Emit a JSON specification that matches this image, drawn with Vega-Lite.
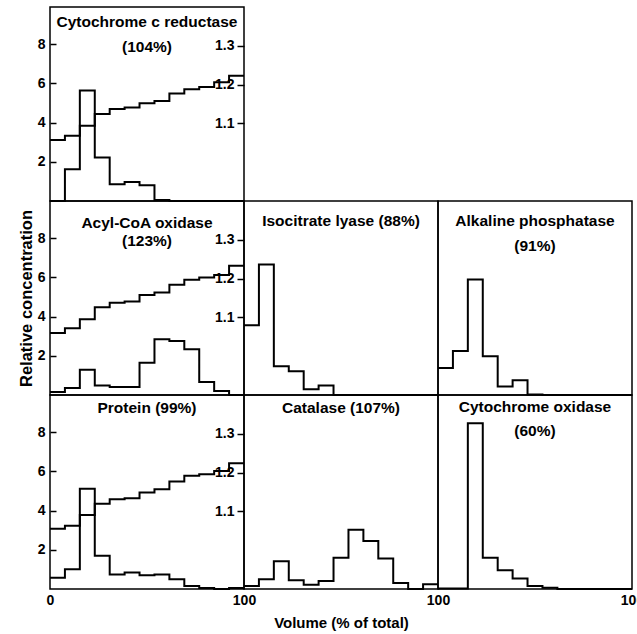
{
  "$schema": "https://vega.github.io/schema/vega-lite/v6.json",
  "padding": {"left": 17, "top": 6, "right": 0, "bottom": 0},
  "background": "white",
  "spacing": 0,
  "bounds": "flush",
  "columns": 3,
  "config": {
    "font": "Liberation Sans",
    "view": {"stroke": "black", "strokeWidth": 1.5},
    "concat": {"spacing": 0},
    "axis": {"grid": false, "domain": false, "labelFont": "Liberation Sans", "labelFontSize": 14, "labelFontWeight": "bold", "labelColor": "black", "tickColor": "black", "tickWidth": 1.5, "titleFont": "Liberation Sans", "titleFontSize": 15, "titleFontWeight": "bold", "titleColor": "black", "labelFlush": false, "labelOverlap": false},
    "title": {"font": "Liberation Sans", "fontSize": 15.5, "fontWeight": "bold", "color": "black", "anchor": "middle"},
    "line": {"color": "black", "strokeWidth": 2, "interpolate": "step-after", "clip": true}
  },
  "data": {"name": "h"},
  "datasets": {
    "h": [
      {"p":"ccr","s":"e","x":0,"v":0},{"p":"ccr","s":"e","x":7.69,"v":1.62},{"p":"ccr","s":"e","x":15.38,"v":5.64},{"p":"ccr","s":"e","x":23.08,"v":2.22},{"p":"ccr","s":"e","x":30.77,"v":0.85},{"p":"ccr","s":"e","x":38.46,"v":0.97},{"p":"ccr","s":"e","x":46.15,"v":0.8},{"p":"ccr","s":"e","x":53.85,"v":0.05},{"p":"ccr","s":"e","x":61.54,"v":0},{"p":"ccr","s":"e","x":69.23,"v":0},{"p":"ccr","s":"e","x":76.92,"v":0},{"p":"ccr","s":"e","x":84.62,"v":0},{"p":"ccr","s":"e","x":92.31,"v":0},{"p":"ccr","s":"e","x":100,"v":0},
      {"p":"ccr","s":"g","x":0,"v":1.057},{"p":"ccr","s":"g","x":7.69,"v":1.068},{"p":"ccr","s":"g","x":15.38,"v":1.094},{"p":"ccr","s":"g","x":23.08,"v":1.124},{"p":"ccr","s":"g","x":30.77,"v":1.137},{"p":"ccr","s":"g","x":38.46,"v":1.141},{"p":"ccr","s":"g","x":46.15,"v":1.152},{"p":"ccr","s":"g","x":53.85,"v":1.158},{"p":"ccr","s":"g","x":61.54,"v":1.177},{"p":"ccr","s":"g","x":69.23,"v":1.188},{"p":"ccr","s":"g","x":76.92,"v":1.194},{"p":"ccr","s":"g","x":84.62,"v":1.206},{"p":"ccr","s":"g","x":92.31,"v":1.223},{"p":"ccr","s":"g","x":100,"v":1.223},
      {"p":"aco","s":"e","x":0,"v":0.15},{"p":"aco","s":"e","x":7.69,"v":0.36},{"p":"aco","s":"e","x":15.38,"v":1.29},{"p":"aco","s":"e","x":23.08,"v":0.49},{"p":"aco","s":"e","x":30.77,"v":0.41},{"p":"aco","s":"e","x":38.46,"v":0.41},{"p":"aco","s":"e","x":46.15,"v":1.64},{"p":"aco","s":"e","x":53.85,"v":2.85},{"p":"aco","s":"e","x":61.54,"v":2.76},{"p":"aco","s":"e","x":69.23,"v":2.33},{"p":"aco","s":"e","x":76.92,"v":0.66},{"p":"aco","s":"e","x":84.62,"v":0.2},{"p":"aco","s":"e","x":92.31,"v":0},{"p":"aco","s":"e","x":100,"v":0},
      {"p":"aco","s":"g","x":0,"v":1.06},{"p":"aco","s":"g","x":7.69,"v":1.072},{"p":"aco","s":"g","x":15.38,"v":1.095},{"p":"aco","s":"g","x":23.08,"v":1.126},{"p":"aco","s":"g","x":30.77,"v":1.138},{"p":"aco","s":"g","x":38.46,"v":1.141},{"p":"aco","s":"g","x":46.15,"v":1.158},{"p":"aco","s":"g","x":53.85,"v":1.164},{"p":"aco","s":"g","x":61.54,"v":1.184},{"p":"aco","s":"g","x":69.23,"v":1.197},{"p":"aco","s":"g","x":76.92,"v":1.203},{"p":"aco","s":"g","x":84.62,"v":1.209},{"p":"aco","s":"g","x":92.31,"v":1.233},{"p":"aco","s":"g","x":100,"v":1.233},
      {"p":"prot","s":"e","x":0,"v":0.58},{"p":"prot","s":"e","x":7.69,"v":1.01},{"p":"prot","s":"e","x":15.38,"v":5.11},{"p":"prot","s":"e","x":23.08,"v":1.7},{"p":"prot","s":"e","x":30.77,"v":0.74},{"p":"prot","s":"e","x":38.46,"v":0.84},{"p":"prot","s":"e","x":46.15,"v":0.7},{"p":"prot","s":"e","x":53.85,"v":0.74},{"p":"prot","s":"e","x":61.54,"v":0.5},{"p":"prot","s":"e","x":69.23,"v":0.15},{"p":"prot","s":"e","x":76.92,"v":0.05},{"p":"prot","s":"e","x":84.62,"v":0},{"p":"prot","s":"e","x":92.31,"v":0.05},{"p":"prot","s":"e","x":100,"v":0.05},
      {"p":"prot","s":"g","x":0,"v":1.055},{"p":"prot","s":"g","x":7.69,"v":1.063},{"p":"prot","s":"g","x":15.38,"v":1.091},{"p":"prot","s":"g","x":23.08,"v":1.12},{"p":"prot","s":"g","x":30.77,"v":1.131},{"p":"prot","s":"g","x":38.46,"v":1.134},{"p":"prot","s":"g","x":46.15,"v":1.149},{"p":"prot","s":"g","x":53.85,"v":1.157},{"p":"prot","s":"g","x":61.54,"v":1.177},{"p":"prot","s":"g","x":69.23,"v":1.192},{"p":"prot","s":"g","x":76.92,"v":1.196},{"p":"prot","s":"g","x":84.62,"v":1.204},{"p":"prot","s":"g","x":92.31,"v":1.224},{"p":"prot","s":"g","x":100,"v":1.224},
      {"p":"icl","s":"e","x":0,"v":3.56},{"p":"icl","s":"e","x":7.69,"v":6.66},{"p":"icl","s":"e","x":15.38,"v":1.47},{"p":"icl","s":"e","x":23.08,"v":1.21},{"p":"icl","s":"e","x":30.77,"v":0.29},{"p":"icl","s":"e","x":38.46,"v":0.49},{"p":"icl","s":"e","x":46.15,"v":0},{"p":"icl","s":"e","x":53.85,"v":0},{"p":"icl","s":"e","x":61.54,"v":0},{"p":"icl","s":"e","x":69.23,"v":0},{"p":"icl","s":"e","x":76.92,"v":0},{"p":"icl","s":"e","x":84.62,"v":0},{"p":"icl","s":"e","x":92.31,"v":0},{"p":"icl","s":"e","x":100,"v":0},
      {"p":"alp","s":"e","x":0,"v":1.38},{"p":"alp","s":"e","x":7.69,"v":2.25},{"p":"alp","s":"e","x":15.38,"v":5.89},{"p":"alp","s":"e","x":23.08,"v":1.98},{"p":"alp","s":"e","x":30.77,"v":0.44},{"p":"alp","s":"e","x":38.46,"v":0.75},{"p":"alp","s":"e","x":46.15,"v":0.03},{"p":"alp","s":"e","x":53.85,"v":0},{"p":"alp","s":"e","x":61.54,"v":0},{"p":"alp","s":"e","x":69.23,"v":0},{"p":"alp","s":"e","x":76.92,"v":0},{"p":"alp","s":"e","x":84.62,"v":0},{"p":"alp","s":"e","x":92.31,"v":0},{"p":"alp","s":"e","x":100,"v":0},
      {"p":"cat","s":"e","x":0,"v":0.15},{"p":"cat","s":"e","x":7.69,"v":0.5},{"p":"cat","s":"e","x":15.38,"v":1.42},{"p":"cat","s":"e","x":23.08,"v":0.45},{"p":"cat","s":"e","x":30.77,"v":0.22},{"p":"cat","s":"e","x":38.46,"v":0.41},{"p":"cat","s":"e","x":46.15,"v":1.6},{"p":"cat","s":"e","x":53.85,"v":3.02},{"p":"cat","s":"e","x":61.54,"v":2.45},{"p":"cat","s":"e","x":69.23,"v":1.56},{"p":"cat","s":"e","x":76.92,"v":0.31},{"p":"cat","s":"e","x":84.62,"v":0},{"p":"cat","s":"e","x":92.31,"v":0.24},{"p":"cat","s":"e","x":100,"v":0.24},
      {"p":"cox","s":"e","x":0,"v":0.02},{"p":"cox","s":"e","x":7.69,"v":0.02},{"p":"cox","s":"e","x":15.38,"v":8.46},{"p":"cox","s":"e","x":23.08,"v":1.6},{"p":"cox","s":"e","x":30.77,"v":0.96},{"p":"cox","s":"e","x":38.46,"v":0.53},{"p":"cox","s":"e","x":46.15,"v":0.15},{"p":"cox","s":"e","x":53.85,"v":0.07},{"p":"cox","s":"e","x":61.54,"v":0},{"p":"cox","s":"e","x":69.23,"v":0},{"p":"cox","s":"e","x":76.92,"v":0},{"p":"cox","s":"e","x":84.62,"v":0},{"p":"cox","s":"e","x":92.31,"v":0},{"p":"cox","s":"e","x":100,"v":0}
    ]
  },
  "concat": [
    {
      "width": 194, "height": 194,
      "title": {"text": ["Cytochrome c reductase", "(104%)"], "offset": -48, "lineHeight": 25},
      "transform": [{"filter": "datum.p == 'ccr'"}],
      "layer": [
        {"transform": [{"filter": "datum.s == 'e'"}], "mark": {"type": "line"},
         "encoding": {"x": {"field": "x", "type": "quantitative", "scale": {"domain": [0, 100], "nice": false}, "axis": null},
                      "y": {"field": "v", "type": "quantitative", "scale": {"domain": [0, 9.9], "nice": false}, "axis": {"orient": "left", "values": [2, 4, 6, 8], "offset": -6, "tickSize": 6, "labelPadding": 5, "title": null}}}},
        {"transform": [{"filter": "datum.s == 'g'"}], "mark": {"type": "line"},
         "encoding": {"x": {"field": "x", "type": "quantitative", "scale": {"domain": [0, 100], "nice": false}, "axis": null},
                      "y": {"field": "v", "type": "quantitative", "scale": {"domain": [0.9, 1.4], "nice": false}, "axis": {"orient": "right", "values": [1.1, 1.2, 1.3], "format": ".1f", "offset": -7, "tickSize": 7, "labelPadding": -10, "labelAlign": "right", "title": null}}}}
      ],
      "resolve": {"scale": {"y": "independent"}}
    },
    {"width": 194, "height": 194, "data": {"values": []}, "mark": "point", "view": {"stroke": null}},
    {"width": 194, "height": 194, "data": {"values": []}, "mark": "point", "view": {"stroke": null}},
    {
      "width": 194, "height": 194,
      "title": {"text": ["Acyl-CoA oxidase", "(123%)"], "offset": -48, "lineHeight": 18},
      "transform": [{"filter": "datum.p == 'aco'"}],
      "layer": [
        {"transform": [{"filter": "datum.s == 'e'"}], "mark": {"type": "line"},
         "encoding": {"x": {"field": "x", "type": "quantitative", "scale": {"domain": [0, 100], "nice": false}, "axis": null},
                      "y": {"field": "v", "type": "quantitative", "scale": {"domain": [0, 9.9], "nice": false}, "axis": {"orient": "left", "values": [2, 4, 6, 8], "offset": -6, "tickSize": 6, "labelPadding": 5, "title": "Relative concentration", "titlePadding": 3, "titleFontSize": 16.5}}}},
        {"transform": [{"filter": "datum.s == 'g'"}], "mark": {"type": "line"},
         "encoding": {"x": {"field": "x", "type": "quantitative", "scale": {"domain": [0, 100], "nice": false}, "axis": null},
                      "y": {"field": "v", "type": "quantitative", "scale": {"domain": [0.9, 1.4], "nice": false}, "axis": {"orient": "right", "values": [1.1, 1.2, 1.3], "format": ".1f", "offset": -7, "tickSize": 7, "labelPadding": -10, "labelAlign": "right", "title": null}}}}
      ],
      "resolve": {"scale": {"y": "independent"}}
    },
    {
      "width": 194, "height": 194,
      "title": {"text": "Isocitrate lyase (88%)", "offset": -28},
      "transform": [{"filter": "datum.p == 'icl'"}],
      "mark": {"type": "line"},
      "encoding": {"x": {"field": "x", "type": "quantitative", "scale": {"domain": [0, 100], "nice": false}, "axis": null},
                   "y": {"field": "v", "type": "quantitative", "scale": {"domain": [0, 9.9], "nice": false}, "axis": null}}
    },
    {
      "width": 194, "height": 194,
      "title": {"text": ["Alkaline phosphatase", "(91%)"], "offset": -53, "lineHeight": 25},
      "transform": [{"filter": "datum.p == 'alp'"}],
      "mark": {"type": "line"},
      "encoding": {"x": {"field": "x", "type": "quantitative", "scale": {"domain": [0, 100], "nice": false}, "axis": null},
                   "y": {"field": "v", "type": "quantitative", "scale": {"domain": [0, 9.9], "nice": false}, "axis": null}}
    },
    {
      "width": 194, "height": 194,
      "title": {"text": "Protein (99%)", "offset": -21},
      "transform": [{"filter": "datum.p == 'prot'"}],
      "layer": [
        {"transform": [{"filter": "datum.s == 'e'"}], "mark": {"type": "line"},
         "encoding": {"x": {"field": "x", "type": "quantitative", "scale": {"domain": [0, 100], "nice": false}, "axis": {"values": [0, 100], "ticks": false, "labelPadding": 4, "title": null}},
                      "y": {"field": "v", "type": "quantitative", "scale": {"domain": [0, 9.9], "nice": false}, "axis": {"orient": "left", "values": [2, 4, 6, 8], "offset": -6, "tickSize": 6, "labelPadding": 5, "title": null}}}},
        {"transform": [{"filter": "datum.s == 'g'"}], "mark": {"type": "line"},
         "encoding": {"x": {"field": "x", "type": "quantitative", "scale": {"domain": [0, 100], "nice": false}, "axis": {"values": [0, 100], "ticks": false, "labelPadding": 4, "title": null}},
                      "y": {"field": "v", "type": "quantitative", "scale": {"domain": [0.9, 1.4], "nice": false}, "axis": {"orient": "right", "values": [1.1, 1.2, 1.3], "format": ".1f", "offset": -7, "tickSize": 7, "labelPadding": -10, "labelAlign": "right", "title": null}}}}
      ],
      "resolve": {"scale": {"y": "independent"}}
    },
    {
      "width": 194, "height": 194,
      "title": {"text": "Catalase (107%)", "offset": -21},
      "transform": [{"filter": "datum.p == 'cat'"}],
      "mark": {"type": "line"},
      "encoding": {"x": {"field": "x", "type": "quantitative", "scale": {"domain": [0, 100], "nice": false}, "axis": {"values": [100], "ticks": false, "labelPadding": 4, "title": "Volume (% of total)", "titlePadding": 8}},
                   "y": {"field": "v", "type": "quantitative", "scale": {"domain": [0, 9.9], "nice": false}, "axis": null}}
    },
    {
      "width": 194, "height": 194,
      "title": {"text": ["Cytochrome oxidase", "(60%)"], "offset": -44, "lineHeight": 24},
      "transform": [{"filter": "datum.p == 'cox'"}],
      "mark": {"type": "line"},
      "encoding": {"x": {"field": "x", "type": "quantitative", "scale": {"domain": [0, 100], "nice": false}, "axis": {"values": [100], "ticks": false, "labelPadding": 4, "title": null}},
                   "y": {"field": "v", "type": "quantitative", "scale": {"domain": [0, 9.9], "nice": false}, "axis": null}}
    }
  ]
}
